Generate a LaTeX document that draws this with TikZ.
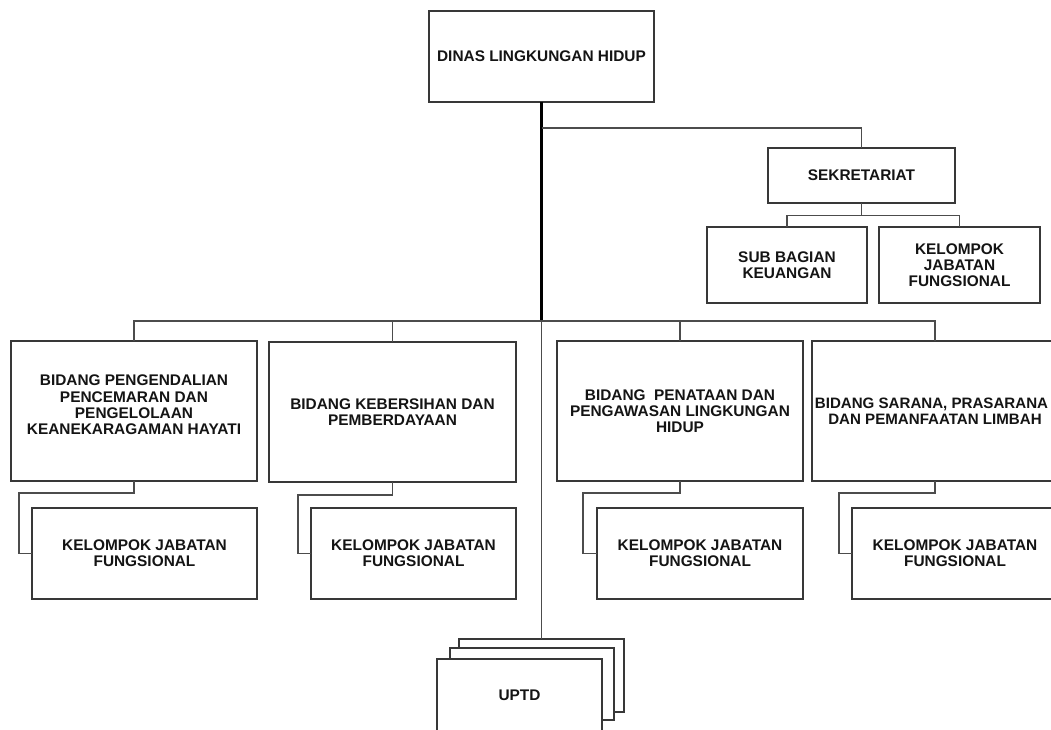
\documentclass[tikz,border=0pt]{standalone}
\usepackage{fontspec}
\setmainfont{Liberation Sans}
\begin{document}
\begin{tikzpicture}[x=1pt,y=-1pt,
  box/.style={draw=black!78, line width=1.5pt, fill=white, inner sep=0pt, outer sep=0pt,
    align=center, font=\bfseries\fontsize{15.4}{16.2}\selectfont, text=black!92},
  conn/.style={draw=black!70, line width=1.3pt},
  thick conn/.style={draw=black, line width=2.8pt}]
\useasboundingbox (0,0) rectangle (1051,729);
\clip (0,0) rectangle (1051,729);
\fill[white] (0,0) rectangle (1051,729);
% top
\node[box, minimum width=225, minimum height=91] (dinas) at (541.5,56.5) {DINAS LINGKUNGAN HIDUP};
\node[box, minimum width=187, minimum height=55] (sekr) at (861.5,175.5) {SEKRETARIAT};
\node[box, minimum width=160, minimum height=76] (subbag) at (787,265) {SUB BAGIAN\\KEUANGAN};
\node[box, minimum width=161, minimum height=76] (kjfs) at (959.5,265) {KELOMPOK\\JABATAN\\FUNGSIONAL};
% bidang
\node[box, minimum width=246, minimum height=140] (b1) at (134,411) {BIDANG PENGENDALIAN\\PENCEMARAN DAN\\PENGELOLAAN\\KEANEKARAGAMAN HAYATI\\[-4pt]\mbox{}};
\node[box, minimum width=247, minimum height=140] (b2) at (392.5,412) {BIDANG KEBERSIHAN DAN\\PEMBERDAYAAN};
\node[box, minimum width=246, minimum height=140] (b3) at (680,411) {BIDANG~ PENATAAN DAN\\PENGAWASAN LINGKUNGAN\\HIDUP};
\node[box, minimum width=246, minimum height=140, font=\bfseries\fontsize{15.1}{16.2}\selectfont] (b4) at (935,411) {BIDANG SARANA, PRASARANA\hspace*{7pt}\\DAN PEMANFAATAN LIMBAH};
% kelompok
\node[box, minimum width=225, minimum height=91] (k1) at (144.5,553.5) {KELOMPOK JABATAN\\FUNGSIONAL};
\node[box, minimum width=205, minimum height=91] (k2) at (413.5,553.5) {KELOMPOK JABATAN\\FUNGSIONAL};
\node[box, minimum width=206, minimum height=91] (k3) at (700,553.5) {KELOMPOK JABATAN\\FUNGSIONAL};
\node[box, minimum width=206, minimum height=91] (k4) at (955,553.5) {KELOMPOK JABATAN\\FUNGSIONAL};
% UPTD stack
\node[box, minimum width=165, minimum height=73] (u3) at (541.5,675.5) {};
\node[box, minimum width=164, minimum height=72] (u2) at (532,684) {};
\node[box, minimum width=165, minimum height=73] (u1) at (519.5,695.5) {UPTD};
% coordinates
\coordinate (bus) at (541.5,321);
\coordinate (sekbus) at (541.5,128);
% connectors
\draw[thick conn] (dinas.south) -- (bus);
\draw[conn] (bus) -- (u3.north);
\draw[conn] (sekbus) -| (sekr.north);
\draw[conn] (b1.north) |- (bus);
\draw[conn] (b2.north) |- (bus);
\draw[conn] (b3.north) |- (bus);
\draw[conn] (b4.north) |- (bus);
\draw[conn] (sekr.south) -- ++(0,12.5) -| (subbag.north);
\draw[conn] (sekr.south) -- ++(0,12.5) -| (kjfs.north);
\draw[conn] (b1.south) -- ++(0,12) -| (19,553.5) -- (k1.west);
\draw[conn] (b2.south) -- ++(0,13) -| (298,553.5) -- (k2.west);
\draw[conn] (b3.south) -- ++(0,12) -| (583,553.5) -- (k3.west);
\draw[conn] (b4.south) -- ++(0,12) -| (839,553.5) -- (k4.west);
\end{tikzpicture}
\end{document}
